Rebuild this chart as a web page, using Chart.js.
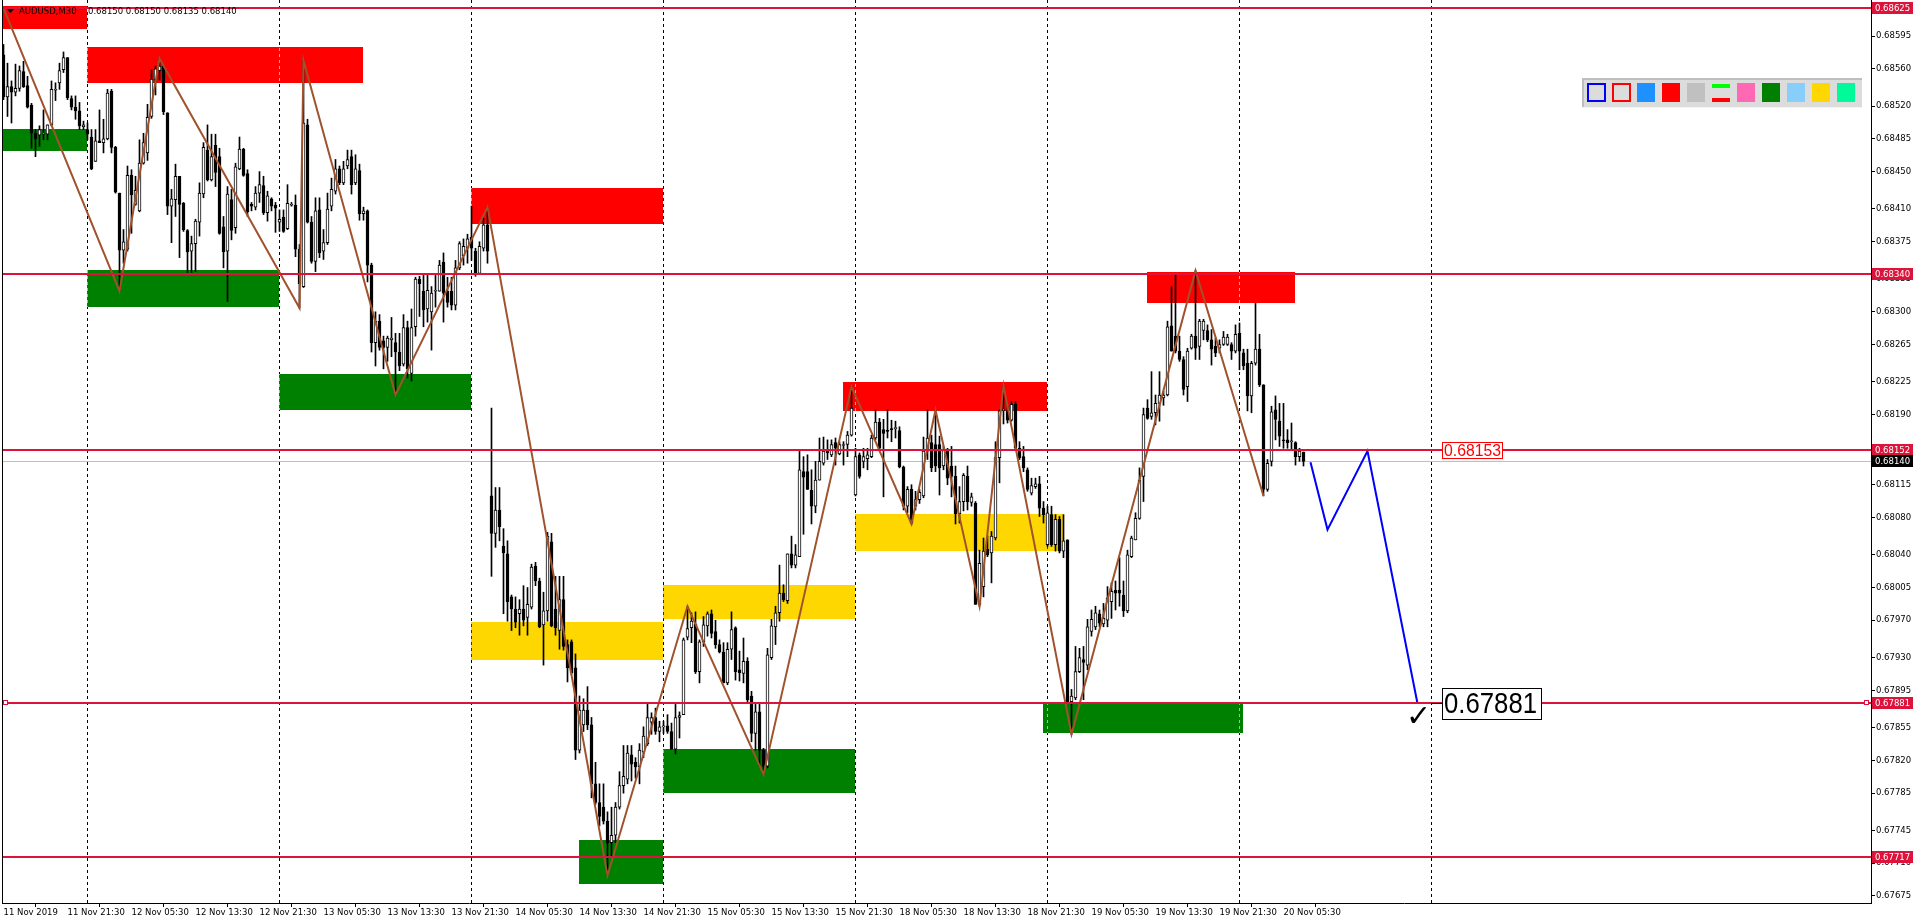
<!DOCTYPE html>
<html><head><meta charset="utf-8">
<script src="https://cdn.jsdelivr.net/npm/chart.js@4"></script>
<style>html,body{margin:0;padding:0;background:#fff;overflow:hidden}canvas{display:block}</style>
</head><body>
<canvas id="c" width="1916" height="923"></canvas>
<script>
// ---- data ----
const symbolName = 'AUDUSD,M30';
const candleOpen = [
.68575,.68530,.68541,.68535,.68539,.68557,.68542,.68521,.68491,.68489,
.68490,.68490,.68500,.68537,.68545,.68559,.68572,.68528,.68519,.68515,
.68498,.68495,.68487,.68461,.68483,.68481,.68485,.68536,.68476,.68427,
.68366,.68367,.68446,.68415,.68408,.68459,.68470,.68509,.68548,.68558,
.68563,.68513,.68413,.68420,.68445,.68416,.68387,.68365,.68373,.68396,
.68426,.68473,.68441,.68478,.68466,.68391,.68365,.68420,.68390,.68453,
.68474,.68448,.68415,.68412,.68427,.68435,.68406,.68421,.68414,.68396,
.68401,.68389,.68414,.68414,.68367,.68327,.68500,.68396,.68354,.68409,
.68365,.68374,.68413,.68429,.68453,.68438,.68456,.68466,.68438,.68451,
.68405,.68408,.68350,.68267,.68290,.68269,.68262,.68270,.68267,.68257,
.68244,.68283,.68234,.68284,.68335,.68322,.68303,.68300,.68322,.68322,
.68353,.68322,.68322,.68307,.68347,.68360,.68368,.68380,.68365,.68341,
.68368,.68393,.68103,.68063,.68088,.68049,.68041,.67995,.67982,.67977,
.67982,.67973,.67984,.68028,.68012,.67965,.67980,.68054,.67982,.67959,
.67992,.67944,.67947,.67919,.67831,.67858,.67874,.67858,.67795,.67775,
.67770,.67755,.67732,.67740,.67770,.67793,.67800,.67826,.67818,.67813,
.67829,.67838,.67861,.67866,.67851,.67856,.67857,.67851,.67832,.67866,
.67869,.67952,.67962,.67966,.67915,.67947,.67964,.67977,.67958,.67944,
.67936,.67903,.67939,.67962,.67917,.67913,.67926,.67889,.67849,.67872,
.67831,.67814,.67930,.67963,.67978,.67999,.67991,.68041,.68029,.68038,
.68129,.68129,.68109,.68092,.68120,.68138,.68151,.68147,.68160,.68148,
.68157,.68158,.68168,.68104,.68147,.68140,.68143,.68145,.68165,.68182,
.68174,.68173,.68175,.68175,.68173,.68134,.68092,.68110,.68092,.68099,
.68103,.68151,.68160,.68158,.68158,.68135,.68152,.68135,.68124,.68084,
.68097,.68124,.68096,.68095,.67987,.68006,.68046,.68042,.68058,.68144,
.68194,.68194,.68184,.68201,.68154,.68145,.68131,.68106,.68113,.68116,
.68090,.68051,.68083,.68051,.68078,.68044,.68056,.67883,.67887,.67915,
.67928,.67922,.67958,.67963,.67977,.67966,.67970,.67990,.68002,.68002,
.67997,.67980,.68038,.68056,.68079,.68124,.68197,.68188,.68192,.68202,
.68208,.68211,.68285,.68274,.68258,.68249,.68220,.68261,.68274,.68263,
.68280,.68280,.68270,.68263,.68261,.68265,.68265,.68265,.68258,.68277,
.68256,.68245,.68210,.68245,.68260,.68222,.68110,.68140,.68195,.68183,
.68163,.68163,.68161,.68160,.68145,.68150];
const candleHigh = [
.68586,.68566,.68547,.68565,.68563,.68568,.68552,.68523,.68495,.68499,
.68516,.68500,.68547,.68545,.68566,.68578,.68572,.68531,.68531,.68524,
.68504,.68502,.68495,.68495,.68516,.68506,.68538,.68538,.68477,.68427,
.68388,.68456,.68452,.68445,.68484,.68491,.68522,.68559,.68563,.68571,
.68563,.68513,.68431,.68458,.68445,.68417,.68388,.68381,.68399,.68438,
.68481,.68500,.68490,.68490,.68475,.68402,.68434,.68431,.68459,.68487,
.68475,.68452,.68417,.68434,.68450,.68445,.68429,.68422,.68417,.68409,
.68409,.68436,.68417,.68425,.68372,.68569,.68506,.68402,.68422,.68422,
.68388,.68427,.68443,.68463,.68456,.68461,.68473,.68473,.68468,.68458,
.68412,.68409,.68352,.68300,.68297,.68274,.68274,.68294,.68277,.68277,
.68297,.68290,.68303,.68337,.68338,.68340,.68340,.68327,.68340,.68355,
.68363,.68337,.68337,.68355,.68375,.68378,.68383,.68413,.68368,.68375,
.68400,.68412,.68197,.68112,.68112,.68068,.68055,.67997,.67995,.67992,
.68007,.68005,.68030,.68032,.68015,.68000,.68064,.68063,.68017,.68017,
.68017,.67949,.67949,.67934,.67889,.67886,.67899,.67866,.67818,.67795,
.67795,.67765,.67770,.67775,.67808,.67836,.67836,.67836,.67823,.67838,
.67856,.67881,.67871,.67876,.67862,.67862,.67869,.67860,.67880,.67872,
.67951,.67985,.67978,.67979,.67949,.67974,.67979,.67981,.67970,.67949,
.67946,.67946,.67979,.67963,.67937,.67951,.67930,.67894,.67880,.67881,
.67833,.67940,.67971,.67985,.68029,.68008,.68041,.68060,.68051,.68152,
.68145,.68147,.68131,.68140,.68165,.68166,.68163,.68163,.68165,.68161,
.68161,.68172,.68220,.68154,.68149,.68154,.68154,.68168,.68195,.68186,
.68185,.68195,.68184,.68183,.68177,.68135,.68113,.68115,.68108,.68110,
.68166,.68195,.68168,.68195,.68167,.68156,.68154,.68156,.68135,.68113,
.68127,.68135,.68106,.68097,.68045,.68058,.68060,.68065,.68161,.68195,
.68221,.68199,.68204,.68204,.68161,.68156,.68133,.68122,.68122,.68124,
.68097,.68092,.68092,.68083,.68081,.68083,.68056,.67896,.67942,.67940,
.67942,.67971,.67981,.67985,.67981,.67988,.68006,.68010,.68012,.68037,
.68012,.68045,.68060,.68085,.68133,.68197,.68206,.68236,.68211,.68236,
.68215,.68290,.68327,.68339,.68274,.68252,.68261,.68276,.68344,.68292,
.68292,.68286,.68281,.68272,.68270,.68279,.68276,.68267,.68286,.68288,
.68260,.68260,.68247,.68309,.68276,.68222,.68142,.68199,.68210,.68202,
.68202,.68174,.68181,.68161,.68154,.68150];
const candleLow = [
.68527,.68509,.68502,.68531,.68536,.68540,.68518,.68475,.68466,.68477,
.68484,.68484,.68499,.68526,.68538,.68556,.68527,.68516,.68506,.68495,
.68495,.68484,.68452,.68461,.68481,.68470,.68484,.68470,.68427,.68322,
.68352,.68365,.68384,.68414,.68407,.68458,.68462,.68507,.68532,.68548,
.68511,.68404,.68374,.68402,.68358,.68386,.68340,.68340,.68343,.68381,
.68422,.68440,.68440,.68434,.68383,.68347,.68311,.68377,.68384,.68452,
.68445,.68402,.68408,.68409,.68417,.68404,.68397,.68408,.68385,.68386,
.68385,.68388,.68413,.68359,.68304,.68326,.68395,.68352,.68343,.68358,
.68356,.68372,.68408,.68426,.68436,.68436,.68453,.68426,.68436,.68398,
.68398,.68332,.68257,.68242,.68259,.68239,.68247,.68252,.68211,.68237,
.68242,.68229,.68226,.68274,.68295,.68284,.68289,.68259,.68305,.68322,
.68289,.68305,.68302,.68302,.68345,.68350,.68352,.68355,.68338,.68340,
.68365,.68352,.68017,.68048,.68055,.67977,.67969,.67959,.67962,.67954,
.67964,.67954,.67982,.68007,.67962,.67922,.67969,.67963,.67954,.67939,
.67938,.67904,.67912,.67821,.67828,.67851,.67853,.67780,.67773,.67750,
.67752,.67697,.67717,.67732,.67768,.67785,.67795,.67798,.67801,.67795,
.67823,.67836,.67848,.67848,.67840,.67849,.67849,.67832,.67827,.67844,
.67869,.67949,.67946,.67913,.67903,.67942,.67953,.67951,.67940,.67935,
.67903,.67901,.67928,.67906,.67905,.67903,.67881,.67840,.67831,.67814,
.67805,.67812,.67928,.67944,.67969,.67990,.67988,.68026,.68026,.68038,
.68062,.68110,.68073,.68085,.68120,.68136,.68142,.68145,.68136,.68147,
.68136,.68145,.68167,.68103,.68122,.68133,.68131,.68144,.68163,.68152,
.68102,.68165,.68161,.68165,.68133,.68088,.68085,.68073,.68088,.68095,
.68101,.68142,.68129,.68129,.68104,.68131,.68115,.68102,.68073,.68074,
.68087,.68088,.68092,.67987,.67985,.67995,.68038,.68010,.68056,.68117,
.68180,.68181,.68183,.68152,.68142,.68129,.68108,.68104,.68111,.68081,
.68074,.68049,.68049,.68044,.68042,.68037,.67881,.67848,.67885,.67914,
.67885,.67917,.67953,.67960,.67963,.67963,.67963,.67972,.67981,.67985,
.67974,.67978,.68037,.68056,.68078,.68097,.68185,.68185,.68179,.68183,
.68200,.68210,.68258,.68256,.68247,.68211,.68204,.68260,.68249,.68249,
.68270,.68268,.68243,.68252,.68256,.68264,.68264,.68249,.68256,.68238,
.68238,.68194,.68192,.68243,.68220,.68103,.68108,.68135,.68163,.68156,
.68154,.68154,.68152,.68136,.68140,.68135];
const candleClose = [
.68530,.68541,.68535,.68539,.68558,.68541,.68519,.68491,.68485,.68495,
.68490,.68500,.68538,.68538,.68558,.68572,.68529,.68519,.68515,.68499,
.68500,.68490,.68453,.68483,.68481,.68485,.68534,.68476,.68428,.68366,
.68375,.68446,.68425,.68430,.68459,.68481,.68508,.68549,.68560,.68563,
.68514,.68413,.68421,.68445,.68415,.68388,.68364,.68373,.68397,.68427,
.68476,.68441,.68466,.68449,.68384,.68364,.68426,.68387,.68455,.68474,
.68446,.68407,.68413,.68427,.68436,.68406,.68424,.68413,.68411,.68399,
.68386,.68416,.68415,.68367,.68330,.68502,.68396,.68354,.68408,.68363,
.68374,.68410,.68431,.68453,.68438,.68453,.68463,.68436,.68453,.68405,
.68408,.68350,.68267,.68290,.68262,.68262,.68272,.68272,.68257,.68242,
.68283,.68239,.68283,.68335,.68330,.68302,.68323,.68320,.68323,.68350,
.68320,.68310,.68307,.68347,.68373,.68370,.68378,.68368,.68340,.68370,
.68393,.68365,.68063,.68088,.68070,.68042,.67990,.67982,.67968,.67982,
.67970,.67987,.68027,.68012,.67963,.67980,.68060,.67964,.67962,.67992,
.67942,.67919,.67914,.67831,.67874,.67874,.67858,.67795,.67775,.67760,
.67755,.67732,.67740,.67770,.67793,.67803,.67828,.67816,.67813,.67831,
.67846,.67866,.67866,.67851,.67856,.67856,.67851,.67832,.67866,.67868,
.67949,.67961,.67969,.67915,.67947,.67965,.67977,.67956,.67944,.67936,
.67903,.67939,.67960,.67915,.67914,.67926,.67885,.67849,.67872,.67831,
.67814,.67933,.67964,.67978,.67999,.67992,.68041,.68029,.68040,.68131,
.68123,.68110,.68092,.68120,.68140,.68151,.68149,.68158,.68154,.68158,
.68158,.68168,.68197,.68145,.68124,.68145,.68147,.68165,.68182,.68154,
.68170,.68172,.68174,.68175,.68134,.68092,.68110,.68074,.68099,.68107,
.68151,.68165,.68133,.68135,.68133,.68152,.68122,.68124,.68084,.68097,
.68125,.68097,.68102,.67987,.68031,.68044,.68040,.68060,.68144,.68194,
.68196,.68184,.68201,.68154,.68144,.68133,.68110,.68114,.68116,.68090,
.68083,.68085,.68051,.68078,.68044,.68055,.67883,.67889,.67915,.67930,
.67925,.67963,.67971,.67978,.67967,.67972,.67994,.68001,.67999,.67999,
.67980,.68040,.68058,.68079,.68120,.68190,.68186,.68192,.68202,.68211,
.68211,.68284,.68258,.68258,.68249,.68217,.68258,.68274,.68261,.68290,
.68290,.68270,.68260,.68256,.68265,.68273,.68273,.68258,.68276,.68258,
.68242,.68210,.68245,.68260,.68222,.68110,.68138,.68193,.68185,.68167,
.68162,.68160,.68161,.68145,.68151,.68140];

const xTickIdx = [0,16,32,48,64,80,96,112,128,144,160,176,192,208,224,240,256,272,288,304,320];
const xTickLabels = ['11 Nov 2019','11 Nov 21:30','12 Nov 05:30','12 Nov 13:30','12 Nov 21:30','13 Nov 05:30','13 Nov 13:30','13 Nov 21:30','14 Nov 05:30','14 Nov 13:30','14 Nov 21:30','15 Nov 05:30','15 Nov 13:30','15 Nov 21:30','18 Nov 05:30','18 Nov 13:30','18 Nov 21:30','19 Nov 05:30','19 Nov 13:30','19 Nov 21:30','20 Nov 05:30'];
const yTickValues = [0.68595,0.68560,0.68520,0.68485,0.68450,0.68410,0.68375,0.68335,0.68300,0.68265,0.68225,0.68190,0.68115,0.68080,0.68040,0.68005,0.67970,0.67930,0.67895,0.67855,0.67820,0.67785,0.67745,0.67710,0.67675];
const dayLineIdx = [21,69,117,165,213,261,309,357];

const zigzagIdx   = [0,29,39,74,75,98,121,151,171,190,212,227,233,244,250,267,298,315];
const zigzagPrice = [0.68625,0.68322,0.68571,0.68304,0.68569,0.68211,0.68412,0.67697,0.67985,0.67805,0.68220,0.68073,0.68195,0.67985,0.68221,0.67848,0.68344,0.68103];
const forecastIdx   = [326.75,331,341,353.5];
const forecastPrice = [0.68139,0.68067,0.68151,0.67881];

const zoneFrom = [-0.4,-0.4,21,21,69,117,117,144,165,165,210,213,286,260];
const zoneTo   = [21,21,90,69,117,165,165,165,213,213,261,265,323,310];
const zoneHigh = [0.68627,0.68496,0.68583,0.68345,0.68233,0.68432,0.67968,0.67735,0.68008,0.67832,0.68225,0.68084,0.68343,0.67880];
const zoneLow  = [0.68603,0.68472,0.68545,0.68305,0.68195,0.68394,0.67928,0.67688,0.67971,0.67785,0.68194,0.68044,0.68309,0.67849];
const zoneKind = ['R','G','R','G','G','R','Y','G','Y','G','R','Y','R','G'];

const levelPrices = [0.68625,0.68340,0.68152,0.67881,0.67717];
const bidPrice = 0.68140;
const targetPrice = 0.67881;
const noteText  = ['0.68153','0.67881'];
const noteIdx   = [359.6,359.6];
const notePrice = [0.68161,0.678975];

// ---- layout / style ----
const FONT = '"DejaVu Sans", Tahoma, sans-serif';
const X_MIN = -0.375, X_MAX = X_MIN + 1869/4;
const Y_MIN = 0.676675, Y_MAX = 0.686336;
const zoneColors = {R:'#FF0000', G:'#008000', Y:'#FFD700'};
const CRIMSON = '#DC143C';

const bodies = candleOpen.map((o,i)=>({x:i, y:[Math.min(o,candleClose[i]), Math.max(o,candleClose[i])]}));
const wicks = candleOpen.map((o,i)=>({x:i, y:[Math.min(candleLow[i],o,candleClose[i]), Math.max(candleHigh[i],o,candleClose[i])]}));
const bodyColors = candleOpen.map((o,i)=> candleClose[i] >= o ? '#FFFFFF' : '#000000');
const zig = zigzagIdx.map((v,i)=>({x:v, y:zigzagPrice[i]}));
const fc = forecastIdx.map((v,i)=>({x:v, y:forecastPrice[i]}));

function fitText(ctx, text, x, yMid, size, targetW, color){
  ctx.font = size + 'px "Liberation Sans", Arial, sans-serif';
  const w = ctx.measureText(text).width;
  const s = targetW / w;
  ctx.save(); ctx.translate(x, yMid); ctx.scale(s, 1);
  ctx.fillStyle = color; ctx.textAlign='left'; ctx.textBaseline='middle';
  ctx.fillText(text, 0, 0); ctx.restore();
}

const overlay = {
  id: 'overlay',
  beforeDraw(chart){
    const ctx = chart.ctx;
    ctx.save(); ctx.fillStyle = '#FFFFFF'; ctx.fillRect(0, 0, chart.width, chart.height); ctx.restore();
  },
  beforeDatasetsDraw(chart){
    const {ctx, chartArea:a, scales:{x,y}} = chart;
    ctx.save();
    ctx.beginPath(); ctx.rect(a.left, a.top, a.right-a.left, a.bottom-a.top); ctx.clip();
    for (let k=0;k<zoneFrom.length;k++){
      const x0 = Math.floor(x.getPixelForValue(zoneFrom[k])), x1 = Math.floor(x.getPixelForValue(zoneTo[k]));
      const y0 = Math.round(y.getPixelForValue(zoneHigh[k])), y1 = Math.round(y.getPixelForValue(zoneLow[k]));
      ctx.fillStyle = zoneColors[zoneKind[k]];
      ctx.fillRect(x0, y0, x1-x0, y1-y0);
    }
    ctx.globalCompositeOperation = 'difference';
    ctx.strokeStyle = '#FFFFFF'; ctx.lineWidth = 1; ctx.setLineDash([3,3]);
    for (const g of dayLineIdx){
      const px = Math.floor(x.getPixelForValue(g)) + 0.5;
      if (px > a.right) continue;
      ctx.beginPath(); ctx.moveTo(px, a.top); ctx.lineTo(px, a.bottom); ctx.stroke();
    }
    ctx.globalCompositeOperation = 'source-over'; ctx.setLineDash([]);
    const by = Math.round(y.getPixelForValue(bidPrice));
    ctx.fillStyle = '#C0C0C0'; ctx.fillRect(a.left, by, a.right-a.left, 1);
    ctx.restore();
  },
  afterDatasetsDraw(chart){
    const {ctx, chartArea:a, scales:{x,y}} = chart;
    ctx.save();
    ctx.beginPath(); ctx.rect(a.left, a.top, a.right-a.left, a.bottom-a.top); ctx.clip();
    ctx.fillStyle = CRIMSON;
    for (const p of levelPrices){
      const py = Math.round(y.getPixelForValue(p));
      ctx.fillRect(a.left, py-1, a.right-a.left, 2);
    }
    const ty = Math.round(y.getPixelForValue(targetPrice));
    ctx.lineWidth = 1; ctx.strokeStyle = CRIMSON; ctx.fillStyle = '#FFFFFF';
    ctx.fillRect(a.left+1, ty-2, 4, 4); ctx.strokeRect(a.left+1.5, ty-2.5, 4, 4);
    ctx.fillRect(a.right-6, ty-2, 4, 4); ctx.strokeRect(a.right-6.5, ty-2.5, 4, 4);
    let nx = Math.round(x.getPixelForValue(noteIdx[0])), ny = Math.round(y.getPixelForValue(notePrice[0]));
    ctx.fillStyle = '#FFFFFF'; ctx.fillRect(nx, ny, 61, 17);
    ctx.strokeStyle = '#FF0000'; ctx.strokeRect(nx+0.5, ny+0.5, 60, 16);
    fitText(ctx, noteText[0], nx+2, ny+9, 17, 57, '#FF0000');
    nx = Math.round(x.getPixelForValue(noteIdx[1])); ny = Math.round(y.getPixelForValue(notePrice[1]));
    ctx.fillStyle = '#000000'; ctx.fillRect(nx-11, ty, 11, 1);
    ctx.fillStyle = '#FFFFFF'; ctx.fillRect(nx, ny, 100, 32);
    ctx.strokeStyle = '#000000'; ctx.strokeRect(nx+0.5, ny+0.5, 99, 31);
    fitText(ctx, noteText[1], nx+2, ny+17, 30, 93, '#000000');
    ctx.fillStyle = '#000000'; ctx.font = '30px "DejaVu Sans", sans-serif';
    ctx.textAlign = 'left'; ctx.textBaseline = 'alphabetic';
    ctx.fillText('\u2713', nx-36, ny+38);
    ctx.restore();
  },
  afterDraw(chart){
    const {ctx, chartArea:a, scales:{y}} = chart;
    ctx.save();
    ctx.fillStyle = '#000000'; ctx.fillRect(a.left, a.top, 1, a.bottom-a.top);
    ctx.font = '8.5px ' + FONT; ctx.textBaseline = 'middle'; ctx.textAlign = 'left';
    const marks = levelPrices.map(p=>({p, bg:CRIMSON})).concat([{p:bidPrice, bg:'#000000'}]);
    for (const m of marks){
      const py = Math.round(y.getPixelForValue(m.p));
      ctx.fillStyle = m.bg; ctx.fillRect(a.right+1, py-6, 41, 12);
      ctx.fillStyle = '#FFFFFF'; ctx.fillText(m.p.toFixed(5), a.right+4, py+0.5);
    }
    ctx.fillStyle = '#000000';
    ctx.beginPath(); ctx.moveTo(7,9); ctx.lineTo(14,9); ctx.lineTo(10.5,13); ctx.closePath(); ctx.fill();
    ctx.font = '8.5px ' + FONT; ctx.textBaseline = 'middle';
    ctx.fillText(symbolName, 19, 11.5);
    const L = candleOpen.length-1;
    ctx.fillText([candleOpen[L],candleHigh[L],candleLow[L],candleClose[L]].map(v=>v.toFixed(5)).join(' '), 88, 11.5);
    ctx.fillStyle = '#DCDCDC'; ctx.fillRect(1582, 78, 280, 30);
    ctx.fillStyle = '#BEBEBE'; ctx.fillRect(1582, 78, 280, 2); ctx.fillRect(1582, 78, 2, 30);
    ctx.fillStyle = '#F4F4F4'; ctx.fillRect(1582, 107, 280, 1);
    const sw = ['#0000FF','#FF0000','#1E90FF','#FF0000','#C0C0C0','mix','#FF69B4','#008000','#87CEFA','#FFD700','#00FA9A'];
    sw.forEach((c,k)=>{
      const sx = 1587 + 25*k, sy = 83;
      if (k < 2){ ctx.strokeStyle = c; ctx.lineWidth = 2; ctx.strokeRect(sx+1, sy+1, 17, 17); }
      else if (c === 'mix'){ ctx.fillStyle = '#00FF00'; ctx.fillRect(sx, sy+1, 18, 4); ctx.fillStyle = '#FF0000'; ctx.fillRect(sx, sy+15, 18, 4); }
      else { ctx.fillStyle = c; ctx.fillRect(sx, sy, 18, 19); }
    });
    ctx.restore();
  }
};

new Chart(document.getElementById('c'), {
  type: 'bar',
  data: { datasets: [
    { type:'line', label:'forecast', data: fc, borderColor:'#0000FF', borderWidth:2, pointRadius:0, tension:0, order:0 },
    { type:'line', label:'zigzag', data: zig, borderColor:'#A0522D', borderWidth:2, pointRadius:0, tension:0, order:1 },
    { type:'bar', label:'body', data: bodies, backgroundColor: bodyColors, borderColor:'#000000', borderWidth:1, borderSkipped:false, barThickness:3, minBarLength:1, grouped:false, order:2 },
    { type:'bar', label:'wick', data: wicks, backgroundColor:'#000000', borderWidth:0, barThickness:1, grouped:false, order:3 }
  ]},
  options: {
    responsive:false, animation:false, devicePixelRatio:1, events:[],
    layout:{ padding:{ left:2, right:0, top:0, bottom:0 } },
    plugins:{ legend:{display:false}, tooltip:{enabled:false}, title:{display:false} },
    scales:{
      x:{ type:'linear', min:X_MIN, max:X_MAX, offset:false, bounds:'data',
        afterBuildTicks(s){ s.ticks = xTickIdx.map(v=>({value:v})); },
        afterFit(s){ s.height = 20; s.paddingLeft = 0; s.paddingRight = 0; },
        ticks:{ autoSkip:false, maxRotation:0, minRotation:0, align:'start', padding:1, color:'#000000',
          font:{ family:FONT, size:8.5 },
          callback:(v)=>{ const k = xTickIdx.indexOf(v); return k>=0 ? xTickLabels[k] : ''; } },
        grid:{ drawOnChartArea:false, drawTicks:true, tickLength:4, color:'#000000', lineWidth:1 },
        border:{ display:true, color:'#000000', width:1 } },
      y:{ type:'linear', position:'right', min:Y_MIN, max:Y_MAX, bounds:'data',
        afterBuildTicks(s){ s.ticks = yTickValues.map(v=>({value:v})); },
        afterFit(s){ s.width = 45; s.paddingTop = 0; s.paddingBottom = 0; },
        ticks:{ padding:1, color:'#000000', font:{ family:FONT, size:8.5 }, callback:(v)=>Number(v).toFixed(5) },
        grid:{ drawOnChartArea:false, drawTicks:true, tickLength:4, color:'#000000' },
        border:{ display:true, color:'#000000', width:1 } }
    }
  },
  plugins:[overlay]
});
</script>
</body></html>
